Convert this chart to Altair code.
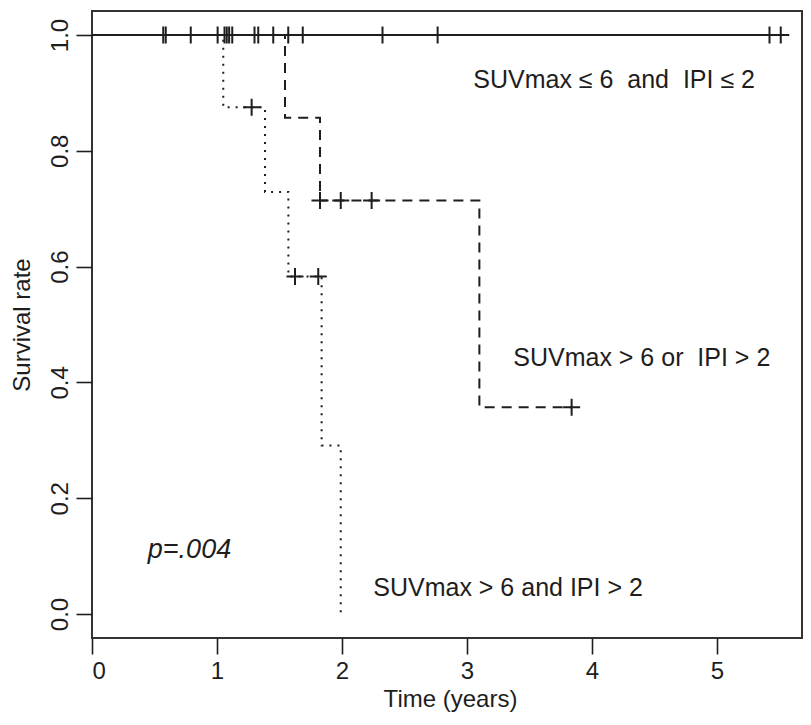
import altair as alt
import pandas as pd

FONT = "Liberation Sans"
INK = "#1e1e1e"

# ---- Kaplan-Meier step curves (time in years, survival) ----
group_names = ["SUVmax<=6 and IPI<=2", "SUVmax>6 or IPI>2", "SUVmax>6 and IPI>2"]

g1_time = [0.0, 5.51]
g1_surv = [1.0, 1.0]

g2_time = [0.0, 1.544, 1.824, 3.099, 3.837]
g2_surv = [1.0, 0.857, 0.714, 0.357, 0.357]

g3_time = [0.0, 1.05, 1.384, 1.571, 1.837, 1.99]
g3_surv = [1.0, 0.875, 0.729, 0.583, 0.291, 0.0]

# ---- censoring marks ----
g1_cens_time = [0.57, 0.59, 0.79, 1.005, 1.06, 1.078, 1.097, 1.122, 1.30, 1.33,
                1.45, 1.57, 1.686, 2.324, 2.765, 5.42, 5.51]
g1_cens_surv = [1.0] * len(g1_cens_time)

g2_cens_time = [1.824, 1.99, 2.237, 3.837]
g2_cens_surv = [0.714, 0.714, 0.714, 0.357]

g3_cens_time = [1.277, 1.624, 1.81]
g3_cens_surv = [0.875, 0.583, 0.583]

# ---- annotations ----
NB = "\u00a0"
ann_text = ["SUVmax \u2264 6" + NB + NB + "and" + NB + NB + "IPI \u2264 2",
            "SUVmax > 6 or" + NB + NB + "IPI > 2",
            "SUVmax > 6 and IPI > 2"]
ann_time = [3.05, 3.37, 2.25]
ann_surv = [0.922, 0.443, 0.045]

p_text = ["p=.004"]
p_time = [0.78]
p_surv = [0.11]

x_ticks = [0, 1, 2, 3, 4, 5]
y_ticks = [0.0, 0.2, 0.4, 0.6, 0.8, 1.0]

# ---- build tables ----
rows = []
for g, ts, ss in zip(group_names, [g1_time, g2_time, g3_time], [g1_surv, g2_surv, g3_surv]):
    for t, s in zip(ts, ss):
        rows.append({"group": g, "time": t, "surv": s})
curves = pd.DataFrame(rows)

crows = []
for g, ts, ss in zip(group_names, [g1_cens_time, g2_cens_time, g3_cens_time],
                     [g1_cens_surv, g2_cens_surv, g3_cens_surv]):
    for t, s in zip(ts, ss):
        crows.append({"group": g, "time": t, "surv": s})
cens = pd.DataFrame(crows)

ann = pd.DataFrame({"label": ann_text, "time": ann_time, "surv": ann_surv})
pdf = pd.DataFrame({"label": p_text, "time": p_time, "surv": p_surv})

PLOT_W = 710
PLOT_H = 627
x_scale = alt.Scale(domain=[0, PLOT_W / 125.0], nice=False, zero=False)
y_scale = alt.Scale(domain=[-0.0414, 1.0414], nice=False, zero=False)

x_enc = alt.X("time:Q", scale=x_scale,
              axis=alt.Axis(values=x_ticks, format="d", title="Time (years)",
                            tickSize=16, tickWidth=1.6, tickColor=INK, domain=False, grid=False,
                            labelFont=FONT, labelFontSize=24, labelColor=INK,
                            labelBaseline="middle", labelPadding=17,
                            titleFont=FONT, titleFontSize=24, titleFontWeight="normal",
                            titleColor=INK, titleBaseline="middle", titleX=358, titleY=61))
y_enc = alt.Y("surv:Q", scale=y_scale,
              axis=alt.Axis(values=y_ticks, format=".1f", title="Survival rate",
                            tickSize=16, tickWidth=1.6, tickColor=INK, domain=False, grid=False,
                            labelFont=FONT, labelFontSize=24, labelColor=INK,
                            labelAngle=270, labelAlign="center", labelBaseline="middle",
                            labelPadding=16,
                            titleFont=FONT, titleFontSize=24, titleFontWeight="normal",
                            titleColor=INK, titleAngle=270, titleBaseline="middle",
                            titleAlign="center", titleX=-70, titleY=313.5))

dash_scale = alt.Scale(domain=group_names, range=[[1, 0], [10, 7], [2, 6]])

lines = alt.Chart(curves).mark_line(interpolate="step-after", color=INK, strokeWidth=2).encode(
    x=x_enc, y=y_enc,
    detail="group:N",
    strokeDash=alt.StrokeDash("group:N", scale=dash_scale, legend=None),
    order="time:Q",
)

marks = alt.Chart(cens).mark_point(shape="M-1,0L1,0M0,-1L0,1", size=290, filled=False,
                                   stroke=INK, strokeWidth=2, opacity=1).encode(
    x="time:Q", y="surv:Q"
)

labels = alt.Chart(ann).mark_text(align="left", baseline="middle", font=FONT, fontSize=25,
                                   color=INK).encode(
    x="time:Q", y="surv:Q", text="label:N"
)

plabel = alt.Chart(pdf).mark_text(align="center", baseline="middle", font=FONT, fontSize=27,
                                  fontStyle="italic", color=INK).encode(
    x="time:Q", y="surv:Q", text="label:N"
)

chart = alt.layer(lines, marks, labels, plabel).properties(
    width=PLOT_W, height=PLOT_H,
    autosize=alt.AutoSizeParams(type="none"),
    padding={"left": 84, "top": 3, "right": 1, "bottom": 78},
    background="white",
).configure_view(stroke="#333333", strokeWidth=2)

chart.save("out.html", embed_options={"renderer": "svg", "actions": False})
